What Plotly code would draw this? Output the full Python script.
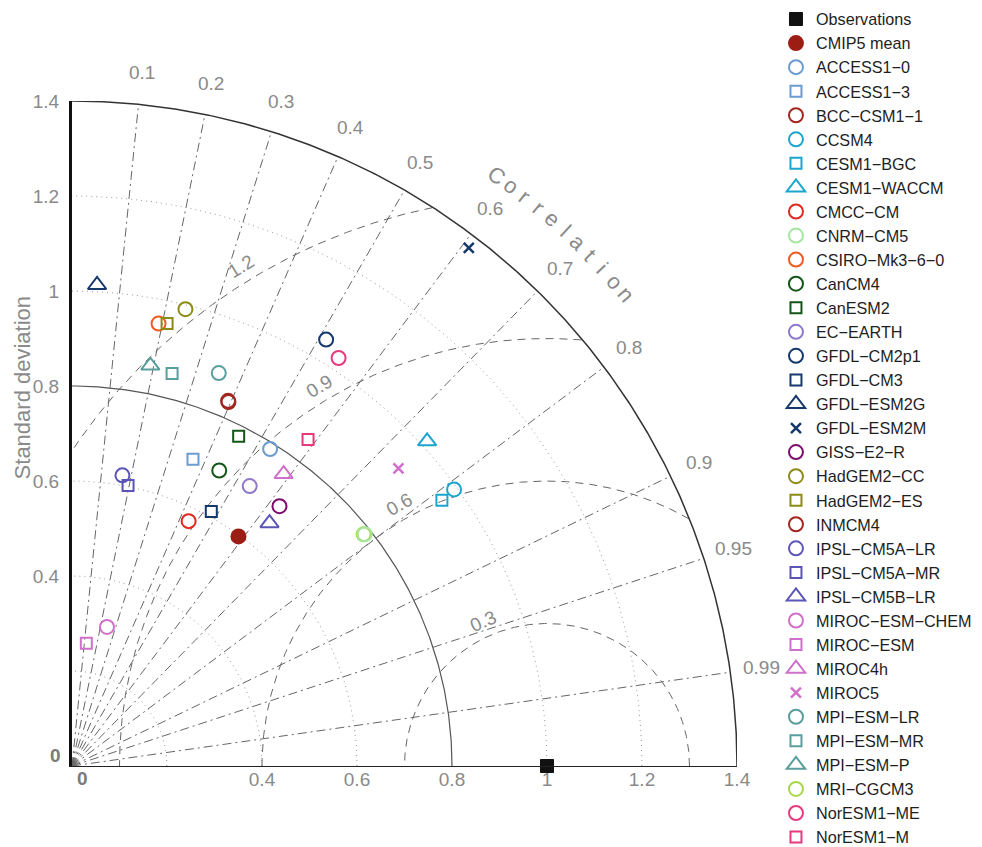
import numpy as np
import plotly.graph_objects as go

# ---------------- data ----------------
obs_name = "Observations"
obs_std = 1.0
obs_corr = 1.0

mean_name = "CMIP5 mean"
mean_std = 0.597
mean_corr = 0.587

models = ["ACCESS1\u22120", "ACCESS1\u22123", "BCC\u2212CSM1\u22121", "CCSM4", "CESM1\u2212BGC",
          "CESM1\u2212WACCM", "CMCC\u2212CM", "CNRM\u2212CM5", "CSIRO\u2212Mk3\u22126\u22120", "CanCM4",
          "CanESM2", "EC\u2212EARTH", "GFDL\u2212CM2p1", "GFDL\u2212CM3", "GFDL\u2212ESM2G",
          "GFDL\u2212ESM2M", "GISS\u2212E2\u2212R", "HadGEM2\u2212CC", "HadGEM2\u2212ES", "INMCM4",
          "IPSL\u2212CM5A\u2212LR", "IPSL\u2212CM5A\u2212MR", "IPSL\u2212CM5B\u2212LR", "MIROC\u2212ESM\u2212CHEM",
          "MIROC\u2212ESM", "MIROC4h", "MIROC5", "MPI\u2212ESM\u2212LR", "MPI\u2212ESM\u2212MR",
          "MPI\u2212ESM\u2212P", "MRI\u2212CGCM3", "NorESM1\u2212ME", "NorESM1\u2212M"]

std_dev = [0.787, 0.694, 0.834, 0.993, 0.959,
           1.013, 0.571, 0.786, 0.949, 0.695,
           0.778, 0.698, 1.045, 0.611, 1.014,
           1.374, 0.700, 0.991, 0.953, 0.836,
           0.621, 0.602, 0.659, 0.302,
           0.260, 0.759, 0.930, 0.883, 0.853,
           0.859, 0.784, 1.026, 0.848]

correlation = [0.530, 0.367, 0.395, 0.810, 0.812,
               0.738, 0.430, 0.784, 0.192, 0.446,
               0.451, 0.536, 0.512, 0.480, 0.052,
               0.608, 0.624, 0.241, 0.210, 0.393,
               0.171, 0.196, 0.631, 0.244,
               0.116, 0.587, 0.739, 0.350, 0.247,
               0.192, 0.783, 0.547, 0.586]

colors = ["#6A9BD1", "#6A9BD1", "#A32520", "#1BA6CF", "#1BA6CF",
          "#1BA6CF", "#E0291F", "#A5E6A0", "#F05A1E", "#14561A",
          "#14561A", "#8F78CC", "#17386B", "#17386B", "#17386B",
          "#17386B", "#7E0C6E", "#8C8C14", "#8C8C14", "#A32520",
          "#5C55B8", "#5C55B8", "#5C55B8", "#D070CC",
          "#D070CC", "#D070CC", "#D070CC", "#5A9E9E", "#5A9E9E",
          "#5A9E9E", "#A8D848", "#E8397F", "#E8397F"]

symbols = ["circle-open", "square-open", "circle-open", "circle-open", "square-open",
           "triangle-up-open", "circle-open", "circle-open", "circle-open", "circle-open",
           "square-open", "circle-open", "circle-open", "square-open", "triangle-up-open",
           "x-thin-open", "circle-open", "circle-open", "square-open", "circle-open",
           "circle-open", "square-open", "triangle-up-open", "circle-open",
           "square-open", "triangle-up-open", "x-thin-open", "circle-open", "square-open",
           "triangle-up-open", "circle-open", "circle-open", "square-open"]

# models drawn first (hidden underneath others in the reference)
draw_first = ["MRI\u2212CGCM3", "INMCM4"]

std_tick_vals = [0.4, 0.6, 0.8, 1.0, 1.2, 1.4]
std_tick_text = ["0.4", "0.6", "0.8", "1", "1.2", "1.4"]
corr_ticks = [0.1, 0.2, 0.3, 0.4, 0.5, 0.6, 0.7, 0.8, 0.9, 0.95, 0.99]
corr_tick_text = ["0.1", "0.2", "0.3", "0.4", "0.5", "0.6", "0.7", "0.8", "0.9", "0.95", "0.99"]
rms_levels = [0.3, 0.6, 0.9, 1.2]
rms_label_angles = [114, 119.5, 121, 121.5]
dotted_arcs = [0.2, 0.4, 0.6, 1.0, 1.2]
solid_arcs = [0.8, 1.4]
max_std = 1.4

# ---------------- helpers ----------------
def to_xy(s, c):
    s = np.asarray(s, dtype=float)
    c = np.asarray(c, dtype=float)
    return s * c, s * np.sqrt(1 - c ** 2)

def paper(v):
    # data -> paper fraction (axes span [0, max_std] over the whole plot area)
    return float(v) / max_std

GRID = "#666666"
LABEL = "#8a8a8a"
FONT = "Liberation Sans, Arial, Helvetica, sans-serif"

fig = go.Figure()

# std arcs (dotted)
t = np.linspace(0, np.pi / 2, 300)
xs, ys = [], []
for r in dotted_arcs:
    xs += list(r * np.cos(t)) + [None]
    ys += list(r * np.sin(t)) + [None]
fig.add_trace(go.Scatter(x=xs, y=ys, mode="lines", showlegend=False, hoverinfo="skip",
                         line=dict(color="#9a9a9a", width=1, dash="1px,4px")))

# correlation rays (dash-dot)
xs, ys = [], []
for c in corr_ticks:
    x1, y1 = to_xy(max_std, c)
    xs += [0, float(x1), None]
    ys += [0, float(y1), None]
fig.add_trace(go.Scatter(x=xs, y=ys, mode="lines", showlegend=False, hoverinfo="skip",
                         line=dict(color=GRID, width=1, dash="9px,4px,2px,4px")))

# RMS circles (dashed)
p = np.linspace(0, np.pi, 800)
xs, ys = [], []
for r in rms_levels:
    cx = obs_std + r * np.cos(p)
    cy = r * np.sin(p)
    ok = (cx >= 0) & (cx ** 2 + cy ** 2 <= max_std ** 2)
    xs += [float(v) if k else None for v, k in zip(cx, ok)] + [None]
    ys += [float(v) if k else None for v, k in zip(cy, ok)] + [None]
fig.add_trace(go.Scatter(x=xs, y=ys, mode="lines", showlegend=False, hoverinfo="skip",
                         connectgaps=False,
                         line=dict(color=GRID, width=1, dash="8px,6px")))

# solid arcs
for r, col, w in zip(solid_arcs, ["#555555", "#333333"], [1.2, 1.5]):
    fig.add_trace(go.Scatter(x=r * np.cos(t), y=r * np.sin(t), mode="lines", showlegend=False,
                             hoverinfo="skip", line=dict(color=col, width=w)))

# observation
ox, oy = to_xy([obs_std], [obs_corr])
fig.add_trace(go.Scatter(x=ox, y=oy, mode="markers", name=obs_name, cliponaxis=False, legendrank=1,
                         marker=dict(symbol="square", size=13, color="#111111",
                                     line=dict(width=1, color="#111111"))))
# multi-model mean
mx, my = to_xy([mean_std], [mean_corr])
fig.add_trace(go.Scatter(x=mx, y=my, mode="markers", name=mean_name, cliponaxis=False, legendrank=2,
                         marker=dict(symbol="circle", size=16, color="#9B1D14",
                                     line=dict(width=0))))
# models
order = [i for i, m in enumerate(models) if m in draw_first] + \
        [i for i, m in enumerate(models) if m not in draw_first]
for i in order:
    name, s, c, col, sym = models[i], std_dev[i], correlation[i], colors[i], symbols[i]
    x, y = to_xy([s], [c])
    if sym.startswith("triangle"):
        size, lw = 16, 2
    elif sym.startswith("square"):
        size, lw = 11, 2
    elif sym.startswith("x"):
        size, lw = 10, 2.5
    else:
        size, lw = 14, 2
    fig.add_trace(go.Scatter(x=x, y=y, mode="markers", name=name, cliponaxis=False,
                             legendrank=10 + i,
                             marker=dict(symbol=sym, size=size, color=col,
                                         line=dict(width=lw, color=col))))

annotations = []
def ann(x, y, text, size=19, color=LABEL, angle=0, xshift=0, yshift=0):
    annotations.append(dict(x=x, y=y, xref="paper", yref="paper", text=text, showarrow=False,
                            xanchor="center", yanchor="middle", textangle=angle,
                            xshift=xshift, yshift=yshift,
                            font=dict(size=size, color=color, family=FONT)))

# correlation tick labels
for c, txt in zip(corr_ticks, corr_tick_text):
    x, y = to_xy(1.467, c)
    ann(paper(x), paper(y), txt)

# "Correlation" curved title
word = "Correlation"
angs = np.linspace(54.3, 40.4, len(word))
for ch, a in zip(word, angs):
    ar = np.deg2rad(a)
    ann(paper(1.532 * np.cos(ar)), paper(1.532 * np.sin(ar)), ch, size=22, angle=float(90 - a))

# RMS labels
for r, a in zip(rms_levels, rms_label_angles):
    ar = np.deg2rad(a)
    rr = r + 0.033
    ann(paper(obs_std + rr * np.cos(ar)), paper(rr * np.sin(ar)), f"{r:g}", angle=float(-(a - 90)))

# zero labels
ann(0, 0, "<b>0</b>", color="#7a7a7a", xshift=-17, yshift=11)
ann(0, 0, "<b>0</b>", color="#7a7a7a", xshift=10, yshift=-12)

# y title
ann(-0.075, 0.568, "Standard deviation", size=22, angle=-90)

fig.update_layout(
    width=974, height=839,
    margin=dict(l=64, r=245, t=93, b=81, pad=0, autoexpand=False),
    paper_bgcolor="white", plot_bgcolor="white",
    font=dict(family=FONT),
    showlegend=True,
    legend=dict(x=1.0586, y=1.1489, xanchor="left", yanchor="top", maxheight=845,
                traceorder="normal",
                font=dict(size=16.2, color="#1e1e1e", family=FONT),
                bgcolor="rgba(0,0,0,0)", borderwidth=0, tracegroupgap=0),
    annotations=annotations,
    xaxis=dict(range=[0, max_std], showgrid=False, zeroline=False, showline=True,
               linecolor="#222222", linewidth=1, ticks="", tickvals=std_tick_vals,
               ticktext=std_tick_text, tickfont=dict(size=19, color=LABEL, family=FONT),
               ticklabelstandoff=-4, fixedrange=True),
    yaxis=dict(range=[0, max_std], showgrid=False, zeroline=False, showline=True,
               linecolor="#111111", linewidth=3, ticks="", tickvals=std_tick_vals,
               ticktext=std_tick_text, tickfont=dict(size=19, color=LABEL, family=FONT),
               scaleanchor="x", scaleratio=1, ticklabelstandoff=6, fixedrange=True),
)

fig.write_html("out.html")
